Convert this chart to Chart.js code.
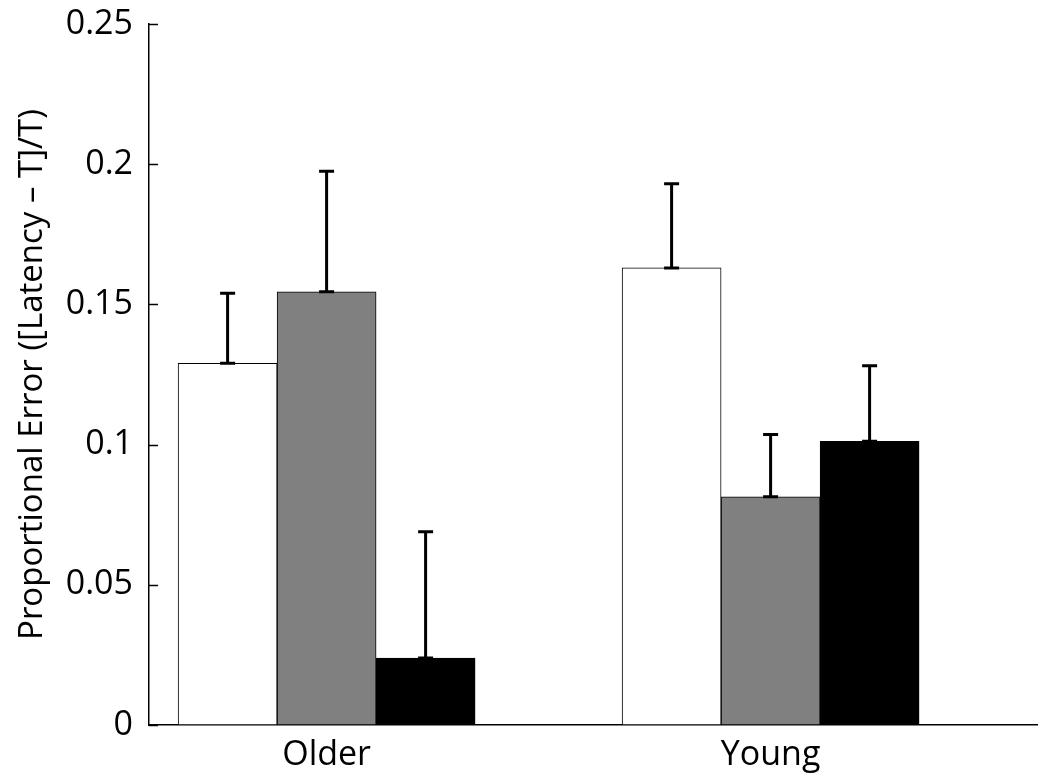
<!DOCTYPE html>
<html>
<head>
<meta charset="utf-8">
<script src="https://cdn.jsdelivr.net/npm/chart.js@4/dist/chart.umd.min.js"></script>
<style>
  html, body { margin: 0; padding: 0; background: #fff; }
  #wrap { width: 1050px; height: 779px; }
</style>
</head>
<body>
<div id="wrap"><canvas id="barChart"></canvas></div>
<script>
// ---------- DATA ----------
const categories = ["Older", "Young"];
const groupX = [1, 2];

const whiteMean = [0.129, 0.163];
const grayMean = [0.1545, 0.0814];
const blackMean = [0.0239, 0.1012];

const whiteErr = [0.025, 0.030];
const grayErr = [0.043, 0.0222];
const blackErr = [0.045, 0.0269];

const yTicks = [0, 0.05, 0.1, 0.15, 0.2, 0.25];
const yTickLabels = ["0", "0.05", "0.1", "0.15", "0.2", "0.25"];

const FONT = "'Open Sans', sans-serif";

function points(values) {
    return values.map((v, i) => ({ x: groupX[i], y: v }));
}

// ---------- ERROR BARS (upper only, with caps) ----------
const errorBarPlugin = {
    id: "errorBars",
    afterDatasetsDraw(chart) {
        const { ctx } = chart;
        const yScale = chart.scales.y;
        ctx.save();
        ctx.strokeStyle = "#000";
        ctx.lineWidth = 3;
        chart.data.datasets.forEach((ds, di) => {
            const meta = chart.getDatasetMeta(di);
            meta.data.forEach((bar, i) => {
                const top = yScale.getPixelForValue(ds.data[i].y + ds.errors[i]);
                const base = bar.y;
                const cap = 7.5;
                ctx.beginPath();
                ctx.moveTo(bar.x, base);
                ctx.lineTo(bar.x, top);
                ctx.moveTo(bar.x - cap, top);
                ctx.lineTo(bar.x + cap, top);
                ctx.moveTo(bar.x - cap, base);
                ctx.lineTo(bar.x + cap, base);
                ctx.stroke();
            });
        });
        ctx.restore();
    }
};

// ---------- INWARD Y TICKS ----------
const inwardTicksPlugin = {
    id: "inwardTicks",
    afterDraw(chart) {
        const { ctx, chartArea } = chart;
        const yScale = chart.scales.y;
        ctx.save();
        ctx.strokeStyle = "#000";
        ctx.lineWidth = 1.5;
        yScale.ticks.forEach(t => {
            const py = Math.round(yScale.getPixelForValue(t.value)) + 0.5;
            ctx.beginPath();
            ctx.moveTo(chartArea.left, py);
            ctx.lineTo(chartArea.left + 9, py);
            ctx.stroke();
        });
        ctx.restore();
    }
};

// ---------- INIT CHART ----------
const canvas = document.getElementById("barChart");

new Chart(canvas, {
    type: "bar",
    data: {
        datasets: [
            { label: "white", data: points(whiteMean), errors: whiteErr, backgroundColor: "#ffffff" },
            { label: "gray", data: points(grayMean), errors: grayErr, backgroundColor: "#808080" },
            { label: "black", data: points(blackMean), errors: blackErr, backgroundColor: "#000000" }
        ].map(ds => Object.assign(ds, {
            borderColor: "#000",
            borderWidth: 1,
            borderSkipped: false,
            barThickness: 99
        }))
    },
    plugins: [errorBarPlugin, inwardTicksPlugin],
    options: {
        responsive: true,
        maintainAspectRatio: false,
        animation: false,
        layout: { padding: { top: 24, right: 13, left: 0, bottom: 0 } },
        plugins: {
            legend: { display: false },
            tooltip: { enabled: false }
        },
        scales: {
            x: {
                type: "linear",
                min: 0.6,
                max: 2.6,
                offset: false,
                grid: { display: false, drawTicks: false },
                border: { display: true, color: "#000", width: 1.5 },
                afterBuildTicks(scale) {
                    scale.ticks = groupX.map(v => ({ value: v }));
                },
                afterFit(scale) {
                    scale.height = 54;
                    scale.paddingLeft = 0;
                    scale.paddingRight = 0;
                },
                ticks: {
                    padding: 10,
                    color: "#000",
                    font: { family: FONT, size: 34 },
                    callback(value) {
                        return categories[groupX.indexOf(value)];
                    }
                }
            },
            y: {
                min: 0,
                max: 0.25,
                grid: { display: false, drawTicks: false },
                border: { display: true, color: "#000", width: 1.5 },
                afterBuildTicks(scale) {
                    scale.ticks = yTicks.map(v => ({ value: v }));
                },
                afterFit(scale) {
                    scale.width = 149;
                    scale.paddingTop = 0;
                    scale.paddingBottom = 0;
                },
                title: {
                    display: true,
                    text: "Proportional Error ([Latency – T]/T)",
                    color: "#000",
                    font: { family: FONT, size: 33 },
                    padding: { top: 13, bottom: 0 }
                },
                ticks: {
                    padding: 16,
                    color: "#000",
                    font: { family: FONT, size: 34 },
                    callback(value) {
                        return yTickLabels[yTicks.indexOf(value)];
                    }
                }
            }
        }
    }
});
</script>
</body>
</html>
